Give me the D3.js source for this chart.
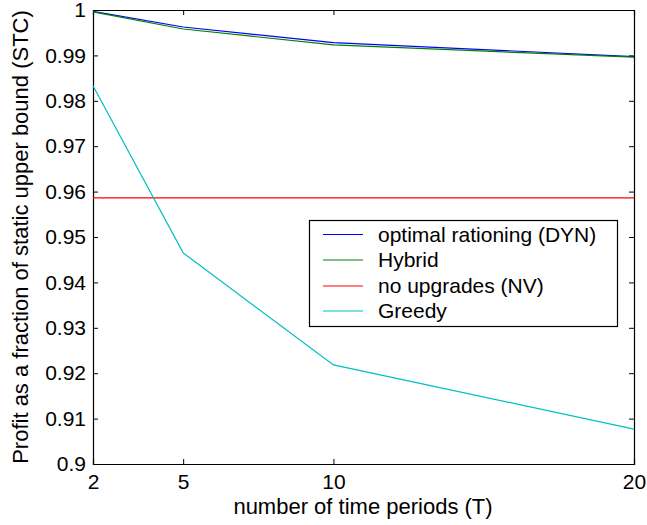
<!DOCTYPE html>
<html><head><meta charset="utf-8">
<script src="https://cdn.jsdelivr.net/npm/d3@7"></script>
<style>body{margin:0;background:#fff}text{font-family:"Liberation Sans",Arial,sans-serif}</style>
</head><body><svg id="c" width="647" height="525"></svg>
<script>
const periods = [2, 5, 10, 20];
const dyn = [0.9997, 0.99626, 0.99281, 0.98974];
const hybrid = [0.9996, 0.99582, 0.99231, 0.98960];
const nv = [0.9586, 0.9586, 0.9586, 0.9586];
const greedy = [0.9833, 0.9465, 0.92183, 0.9077];
const xTicks = [2, 5, 10, 20];
const yTicks = [0.9, 0.91, 0.92, 0.93, 0.94, 0.95, 0.96, 0.97, 0.98, 0.99, 1];
const seriesNames = ["optimal rationing (DYN)", "Hybrid", "no upgrades (NV)", "Greedy"];
const seriesColors = ["#0000ff", "#008000", "#ff0000", "#00bfbf"];
const seriesData = [dyn, hybrid, nv, greedy];

const svg = d3.select("#c");
const L = 93, R = 634, T = 10, B = 464;
const x = d3.scaleLinear().domain([2, 20]).range([L, R]);
const y = d3.scaleLinear().domain([0.9, 1]).range([B, T]);

const fmtY = d => d3.format("")(+d.toFixed(2));
svg.append("g").attr("transform", `translate(0,${B})`)
  .call(d3.axisBottom(x).tickValues(xTicks).tickSize(-5).tickPadding(10).tickFormat(d3.format("d")));
svg.append("g").attr("transform", `translate(0,${T})`)
  .call(d3.axisTop(x).tickValues(xTicks).tickSize(-5).tickFormat(""));
svg.append("g").attr("transform", `translate(${L},0)`)
  .call(d3.axisLeft(y).tickValues(yTicks).tickSize(-5).tickPadding(7).tickFormat(fmtY));
svg.append("g").attr("transform", `translate(${R},0)`)
  .call(d3.axisRight(y).tickValues(yTicks).tickSize(-5).tickFormat(""));
svg.selectAll(".domain").attr("stroke", "#000").attr("stroke-width", 1.2);
svg.selectAll(".tick line").attr("stroke", "#000");
svg.selectAll(".tick text").attr("font-size", 21).attr("fill", "#000")
  .style("font-family", '"Liberation Sans",Arial,sans-serif');

const line = d3.line().x((d, i) => x(periods[i])).y(d => y(d));
seriesData.forEach((s, k) => {
  svg.append("path").datum(s).attr("d", line).attr("fill", "none")
    .attr("stroke", seriesColors[k]).attr("stroke-width", 1.2);
});

svg.append("text").attr("x", 363).attr("y", 514).attr("text-anchor", "middle")
  .attr("font-size", 22).text("number of time periods (T)");
svg.append("text").attr("transform", `translate(28,${(T + B) / 2}) rotate(-90)`)
  .attr("text-anchor", "middle").attr("font-size", 22)
  .text("Profit as a fraction of static upper bound (STC)");

const lg = svg.append("g");
lg.append("rect").attr("x", 309.5).attr("y", 220.5).attr("width", 308).attr("height", 106)
  .attr("fill", "#fff").attr("stroke", "#000").attr("stroke-width", 1.2);
const rowY = [234.5, 260, 286, 311];
seriesNames.forEach((n, k) => {
  lg.append("line").attr("x1", 323).attr("x2", 363).attr("y1", rowY[k]).attr("y2", rowY[k])
    .attr("stroke", seriesColors[k]).attr("stroke-width", 1.2);
  lg.append("text").attr("x", 378).attr("y", rowY[k]).attr("dy", "0.35em")
    .attr("font-size", 21).text(n);
});
</script></body></html>
